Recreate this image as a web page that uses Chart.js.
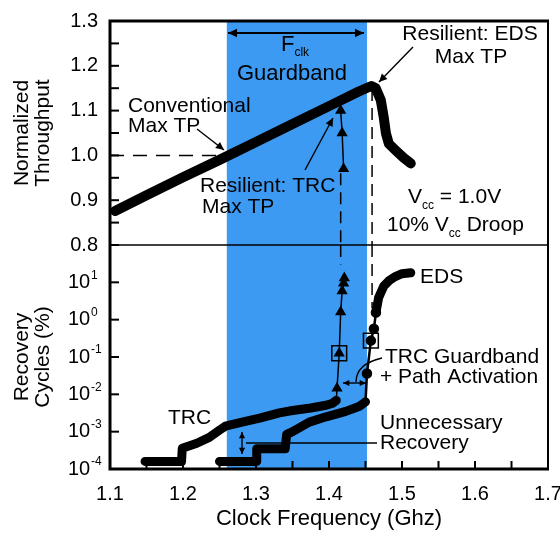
<!DOCTYPE html>
<html><head><meta charset="utf-8">
<script src="https://cdn.jsdelivr.net/npm/chart.js@4.4.1/dist/chart.umd.min.js"></script>
<style>html,body{margin:0;padding:0;background:#fff}#wrap{width:560px;height:534px}</style>
</head><body><div id="wrap"><canvas id="c" width="560" height="534"></canvas></div>
<script>
// ---------- tick labels ----------
const xTickLabels = ['1.1','1.2','1.3','1.4','1.5','1.6','1.7'];
const xMinorTicks = [1.15,1.25,1.35,1.45,1.55,1.65];
const yTopTickLabels = ['0.8','0.9','1.0','1.1','1.2','1.3'];
const yTopMinorTicks = [0.85,0.95,1.05,1.15,1.25];
const yBotTickExps = [-4,-3,-2,-1,0,1];

// ---------- top panel: normalized throughput ----------
const tpFreq  = [1.107,1.15,1.20,1.25,1.30,1.35,1.40,1.44,1.458,1.464,1.471,1.475,1.478,1.482,1.4915,1.502,1.512];
const tpValue = [0.876,0.911,0.951,0.990,1.030,1.070,1.110,1.142,1.155,1.150,1.123,1.085,1.049,1.026,1.011,0.995,0.982];
const convFreq = [1.10,1.258];
const convTP   = [1.0,1.0];
const trcTopFreq = [1.415,1.416,1.418,1.420];
const trcTopTP   = [1.118,1.100,1.050,0.970];
const trcMaxFreq = 1.416;
const edsMaxFreq = 1.459;
const trcDashTop = [0.96,0.80];
const edsDashTop = [1.148,0.80];
const trcDashBot = [100,30];
const edsDashBot = [100,2];

// ---------- bottom panel: recovery cycles (%) ----------
const trcFreq = [1.148,1.198,1.199,1.219,1.236,1.250,1.258,1.281,1.305,1.332,1.350,1.375,1.396,1.405,1.410];
const trcPct  = [1.6e-4,1.6e-4,3.6e-4,4.9e-4,7.0e-4,1.1e-3,1.4e-3,1.8e-3,2.3e-3,3.2e-3,3.7e-3,4.3e-3,5.1e-3,5.8e-3,6.9e-3];
const trcJumpFreq = [1.410,1.411,1.414,1.416,1.418,1.420,1.421];
const trcJumpPct  = [6.9e-3,1.45e-2,0.126,1.6,5.9,9.5,13];
const edsFreq = [1.250,1.300,1.301,1.340,1.342,1.350,1.373,1.396,1.423,1.441,1.450];
const edsPct  = [1.6e-4,1.6e-4,3.5e-4,3.5e-4,8.5e-4,1.0e-3,1.8e-3,2.5e-3,3.5e-3,4.7e-3,6.3e-3];
const edsJumpFreq = [1.450,1.452,1.4574,1.4615,1.4643];
const edsJumpPct  = [6.3e-3,0.036,0.275,0.57,1.55];
const edsHighFreq = [1.4643,1.468,1.475,1.482,1.490,1.500,1.512];
const edsHighPct  = [1.55,3.9,7.9,11,14,17,18];
const boxFreq = [1.414,1.4574];
const boxPct  = [0.126,0.275];

const guardband = [1.26,1.452];

const FF = "'Liberation Sans', Arial, Helvetica, sans-serif";
Chart.defaults.font.family = FF;
Chart.defaults.color = '#000';

function zip(xs, ys){ return xs.map((x,i)=>({x:x, y:ys[i]})); }

const thick = {borderColor:'#000', backgroundColor:'#000', borderWidth:9, pointRadius:0, borderCapStyle:'round', borderJoinStyle:'round', tension:0};
const dashed = {borderColor:'#000', borderWidth:1.5, borderDash:[12,7], pointRadius:0};

const datasets = [
  Object.assign({label:'Throughput', data:zip(tpFreq,tpValue), yAxisID:'yT'}, thick, {borderWidth:10}),
  Object.assign({label:'Conventional', data:zip(convFreq,convTP), yAxisID:'yT'}, dashed, {borderDash:[14,9]}),
  Object.assign({label:'TRC dash top', data:zip([trcMaxFreq,trcMaxFreq],trcDashTop), yAxisID:'yT'}, dashed),
  Object.assign({label:'EDS dash top', data:zip([edsMaxFreq,edsMaxFreq],edsDashTop), yAxisID:'yT'}, dashed),
  Object.assign({label:'TRC dash bot', data:zip([trcMaxFreq,trcMaxFreq],trcDashBot), yAxisID:'yB'}, dashed),
  Object.assign({label:'EDS dash bot', data:zip([edsMaxFreq,edsMaxFreq],edsDashBot), yAxisID:'yB'}, dashed),
  {label:'TRC top', data:zip(trcTopFreq,trcTopTP), yAxisID:'yT', borderColor:'#000', backgroundColor:'#000', borderWidth:1.5, pointStyle:'triangle', pointRadius:[0,5,5,5]},
  Object.assign({label:'TRC', data:zip(trcFreq,trcPct), yAxisID:'yB'}, thick),
  {label:'TRC jump', data:zip(trcJumpFreq,trcJumpPct), yAxisID:'yB', borderColor:'#000', backgroundColor:'#000', borderWidth:1.5, pointStyle:'triangle', pointRadius:[0,5,5,5,5,5,5]},
  Object.assign({label:'EDS', data:zip(edsFreq,edsPct), yAxisID:'yB'}, thick),
  {label:'EDS jump', data:zip(edsJumpFreq,edsJumpPct), yAxisID:'yB', borderColor:'#000', backgroundColor:'#000', borderWidth:2.5, pointStyle:'circle', pointRadius:[0,4,4,4,4]},
  Object.assign({label:'EDS high', data:zip(edsHighFreq,edsHighPct), yAxisID:'yB'}, thick),
  {label:'Boxes', data:zip(boxFreq,boxPct), yAxisID:'yB', showLine:false, pointStyle:'rect', pointRadius:10.5, borderColor:'#000', backgroundColor:'rgba(0,0,0,0)', borderWidth:1.5}
];

function arrowHead(ctx, x0, y0, x1, y1, size){
  const a = Math.atan2(y1-y0, x1-x0);
  ctx.beginPath();
  ctx.moveTo(x1, y1);
  ctx.lineTo(x1 - size*Math.cos(a-0.45), y1 - size*Math.sin(a-0.45));
  ctx.lineTo(x1 - size*Math.cos(a+0.45), y1 - size*Math.sin(a+0.45));
  ctx.closePath(); ctx.fill();
}
function arrow(ctx, x0, y0, x1, y1, both, size){
  size = size || 9;
  ctx.beginPath(); ctx.moveTo(x0,y0); ctx.lineTo(x1,y1); ctx.stroke();
  arrowHead(ctx, x0, y0, x1, y1, size);
  if (both) arrowHead(ctx, x1, y1, x0, y0, size);
}
function runs(ctx, x, y, parts){
  let cx = x;
  for (const p of parts){
    ctx.font = p[1] + 'px ' + FF;
    ctx.fillText(p[0], cx, y + p[2]);
    cx += ctx.measureText(p[0]).width;
  }
}

const deco = {
  id:'deco',
  beforeDatasetsDraw(chart){
    const {ctx, chartArea:a, scales:{x}} = chart;
    const x0 = x.getPixelForValue(guardband[0]), x1 = x.getPixelForValue(guardband[1]);
    ctx.save();
    ctx.fillStyle = '#3c9af2';
    ctx.fillRect(x0, a.top, x1-x0, a.bottom-a.top);
    ctx.restore();
  },
  afterDatasetsDraw(chart){
    const {ctx, chartArea:a, scales:{x, yT, yB}} = chart;
    ctx.save();
    ctx.strokeStyle = '#000'; ctx.fillStyle = '#000';
    // frame
    const mid = yT.bottom;
    ctx.lineWidth = 1.5;
    ctx.beginPath(); ctx.moveTo(a.left, mid); ctx.lineTo(a.right, mid); ctx.stroke();
    ctx.lineWidth = 2;
    ctx.beginPath(); ctx.moveTo(a.right, a.top); ctx.lineTo(a.right, a.bottom); ctx.stroke();
    ctx.lineWidth = 3;
    ctx.beginPath(); ctx.moveTo(a.right+1, a.top); ctx.lineTo(a.left, a.top); ctx.lineTo(a.left, a.bottom); ctx.lineTo(a.right+1, a.bottom); ctx.stroke();
    // inward ticks
    ctx.lineWidth = 2;
    const tl = 9;
    yTopTickLabels.map(Number).concat(yTopMinorTicks).forEach(v=>{
      const y = yT.getPixelForValue(v);
      ctx.beginPath(); ctx.moveTo(a.left, y); ctx.lineTo(a.left+tl, y); ctx.stroke();
    });
    yBotTickExps.forEach(e=>{
      const y = yB.getPixelForValue(Math.pow(10,e));
      ctx.beginPath(); ctx.moveTo(a.left, y); ctx.lineTo(a.left+tl, y); ctx.stroke();
    });
    xTickLabels.map(Number).concat(xMinorTicks).forEach(v=>{
      const xx = x.getPixelForValue(v);
      ctx.beginPath(); ctx.moveTo(xx, a.bottom); ctx.lineTo(xx, a.bottom-8); ctx.stroke();
    });
    // log tick labels with superscripts
    ctx.textBaseline = 'middle'; ctx.textAlign = 'left';
    yBotTickExps.forEach(e=>{
      const y = yB.getPixelForValue(Math.pow(10,e));
      ctx.font = '20px ' + FF;
      ctx.fillText('10', 68, y);
      ctx.font = '12px ' + FF;
      ctx.fillText(e < 0 ? '-' + Math.abs(e) : String(e), 91, y - 7);
    });

    // annotations
    ctx.fillStyle = '#000'; ctx.strokeStyle = '#000';
    ctx.lineWidth = 1.8;
    // F_clk guardband
    arrow(ctx, 228, 33, 364, 33, true, 10);
    runs(ctx, 281, 45, [['F',22,0],['clk',12,8]]);
    ctx.font = '22px ' + FF; ctx.textAlign = 'center';
    ctx.fillText('Guardband', 292, 74);
    // EDS Max TP
    ctx.font = '21px ' + FF;
    ctx.fillText('Resilient: EDS', 470, 34);
    ctx.fillText('Max TP', 471, 57);
    ctx.textAlign = 'left';
    ctx.lineWidth = 1.4;
    arrow(ctx, 413, 47, 379, 82, false, 9);
    // Conventional
    ctx.font = '21px ' + FF;
    ctx.fillText('Conventional', 128, 106);
    ctx.fillText('Max TP', 128, 126);
    arrow(ctx, 197, 129, 224, 150, false, 9);
    // TRC max TP
    ctx.fillText('Resilient: TRC', 200, 186);
    ctx.fillText('Max TP', 202, 207);
    arrow(ctx, 305, 170, 333, 118, false, 9);
    // Vcc
    runs(ctx, 408, 197, [['V',21,0],['cc',12,9],[' = 1.0V',21,0]]);
    runs(ctx, 387, 225, [['10% V',21,0],['cc',12,9],[' Droop',21,0]]);
    // bottom labels
    ctx.font = '21px ' + FF;
    ctx.fillText('EDS', 420, 277);
    ctx.fillText('TRC Guardband', 385, 357);
    ctx.fillText('+ Path Activation', 380, 377);
    ctx.fillText('Unnecessary', 380, 423);
    ctx.fillText('Recovery', 380, 443);
    ctx.fillText('TRC', 168, 418);
    // leader lines
    ctx.lineWidth = 1.4;
    ctx.beginPath(); ctx.moveTo(377, 443); ctx.lineTo(246, 443); ctx.stroke();
    arrow(ctx, 242, 432, 242, 454, true, 7);
    arrow(ctx, 343, 383, 366, 383, true, 7);
    ctx.beginPath(); ctx.moveTo(382, 358); ctx.quadraticCurveTo(356, 364, 356, 382); ctx.stroke();
    ctx.restore();
  }
};

new Chart(document.getElementById('c'), {
  type:'line',
  data:{datasets:datasets},
  options:{
    responsive:false, animation:false,
    layout:{padding:{top:21, right:12, left:0, bottom:0}},
    plugins:{legend:{display:false}, tooltip:{enabled:false}},
    elements:{line:{tension:0}},
    scales:{
      x:{type:'linear', position:'bottom', min:1.1, max:1.7,
        afterFit:s=>{ s.height = 65; s.paddingLeft = 0; s.paddingRight = 0; },
        afterBuildTicks:s=>{ s.ticks = xTickLabels.map(l=>({value:parseFloat(l)})); },
        ticks:{callback:(v,i)=>xTickLabels[i], font:{size:20}, color:'#000', padding:13, maxRotation:0, autoSkip:false},
        grid:{display:false, drawTicks:false}, border:{display:false},
        title:{display:true, text:'Clock Frequency (Ghz)', font:{size:22}, color:'#000', padding:{top:0, bottom:2}}
      },
      yT:{type:'linear', position:'left', stack:'panels', stackWeight:1, weight:2, min:0.8, max:1.3,
        afterFit:s=>{ s.width = 110; s.paddingTop = 0; s.paddingBottom = 0; },
        afterBuildTicks:s=>{ s.ticks = yTopTickLabels.map(l=>({value:parseFloat(l)})); },
        ticks:{callback:(v,i)=>yTopTickLabels[i], font:{size:20}, color:'#000', padding:12, autoSkip:false},
        grid:{display:false, drawTicks:false}, border:{display:false},
        title:{display:true, text:['Normalized','Throughput'], font:{size:21, lineHeight:1.0}, color:'#000', padding:{top:12, bottom:0}}
      },
      yB:{type:'logarithmic', position:'left', stack:'panels', stackWeight:1, weight:1, min:1e-4, max:1e2,
        afterFit:s=>{ s.width = 110; s.paddingTop = 0; s.paddingBottom = 0; },
        afterBuildTicks:s=>{ s.ticks = yBotTickExps.map(e=>({value:Math.pow(10,e)})); },
        ticks:{display:false},
        grid:{display:false, drawTicks:false}, border:{display:false},
        title:{display:true, text:['Recovery','Cycles (%)'], font:{size:21, lineHeight:1.0}, color:'#000', padding:{top:12, bottom:0}}
      }
    }
  },
  plugins:[deco]
});
</script></body></html>
